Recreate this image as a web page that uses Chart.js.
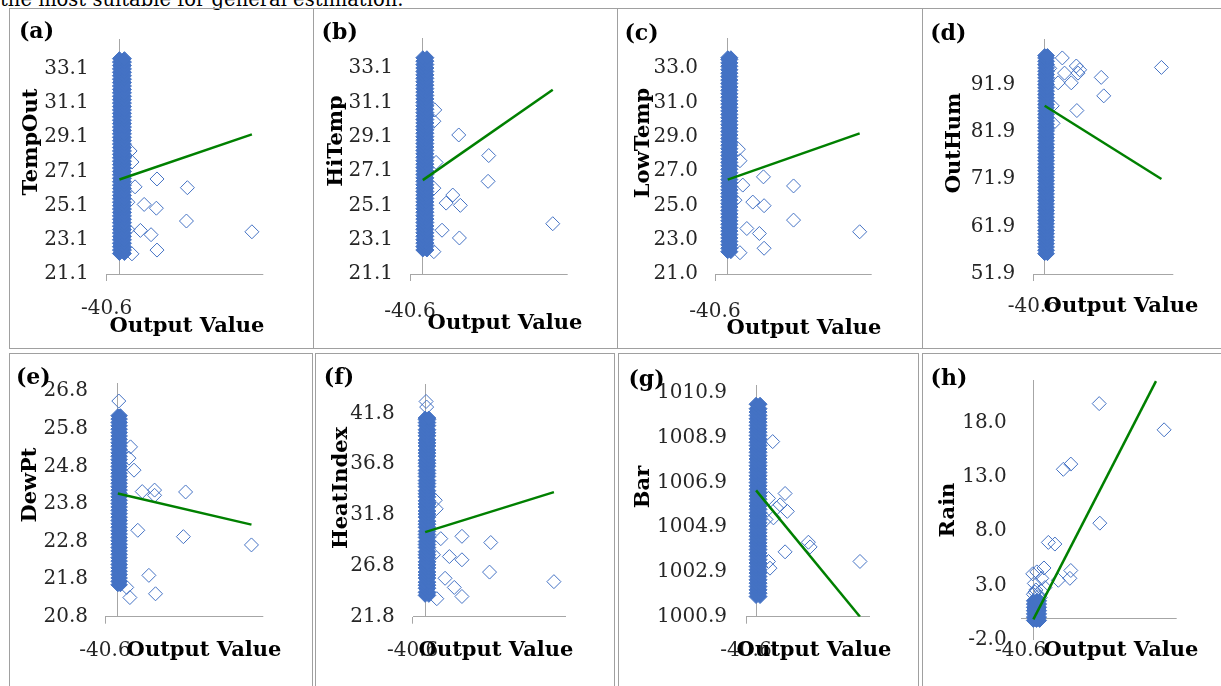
<!DOCTYPE html>
<html><head><meta charset="utf-8">
<script src="https://cdn.jsdelivr.net/npm/chart.js@4.4.1/dist/chart.umd.min.js"></script>
<style>
html,body{margin:0;padding:0;background:#fff;}
body{width:1221px;height:686px;position:relative;overflow:hidden;font-family:'DejaVu Serif',serif;}
.cell{position:absolute;border:1px solid #a0a0a0;box-sizing:border-box;}
canvas{position:absolute;}
.pl{position:absolute;font:bold 22px 'DejaVu Serif';line-height:1;transform:translate(-50%,-50%);white-space:nowrap;color:#000;}
.xt{position:absolute;font:bold 21px 'DejaVu Serif';line-height:1;transform:translate(-50%,-50%);white-space:nowrap;color:#000;}
.yt{position:absolute;font:bold 21px 'DejaVu Serif';line-height:1;transform:translate(-50%,-50%) rotate(-90deg);white-space:nowrap;color:#000;}
#top{position:absolute;left:0;top:-10px;font:19.5px 'DejaVu Serif';line-height:1;white-space:nowrap;color:#000;}
</style></head><body>
<div id="top">the most suitable for general estimation.</div>
<div id="cells"></div>
<div id="charts"></div>
<div id="texts"></div>
<script>
// ---------- data ----------
const xMin = -40.6, xMax = 459.4;
const xTicks = [-40.6];
const xAxisAt = 0;

const aYTicks = [21.1, 23.1, 25.1, 27.1, 29.1, 31.1, 33.1];
const aBandX = [0, 16];
const aBandY = [22.3, 22.5, 22.7, 22.9, 23.1, 23.3, 23.5, 23.7, 23.9, 24.1, 24.3, 24.5, 24.7, 24.9, 25.1, 25.3, 25.5, 25.7, 25.9, 26.1, 26.3, 26.5, 26.7, 26.9, 27.1, 27.3, 27.5, 27.7, 27.9, 28.1, 28.3, 28.5, 28.7, 28.9, 29.1, 29.3, 29.5, 29.7, 29.9, 30.1, 30.3, 30.5, 30.7, 30.9, 31.1, 31.3, 31.5, 31.7, 31.9, 32.1, 32.3, 32.5, 32.7, 32.9, 33.1, 33.3, 33.5, 33.7];
const aOutX = [34, 40, 50, 120, 79, 118, 67, 101, 217, 214, 120, 40, 423, 27, 27];
const aOutY = [28.3, 27.65, 26.2, 26.66, 25.17, 24.95, 23.65, 23.4, 26.15, 24.2, 22.5, 22.28, 23.57, 25.3, 23.7];
const aTrendX = [0, 423];
const aTrendY = [26.63, 29.27];

const bYTicks = [21.1, 23.1, 25.1, 27.1, 29.1, 31.1, 33.1];
const bBandX = [0, 13];
const bBandY = [22.5, 22.7, 22.9, 23.1, 23.3, 23.5, 23.7, 23.9, 24.1, 24.3, 24.5, 24.7, 24.9, 25.1, 25.3, 25.5, 25.7, 25.9, 26.1, 26.3, 26.5, 26.7, 26.9, 27.1, 27.3, 27.5, 27.7, 27.9, 28.1, 28.3, 28.5, 28.7, 28.9, 29.1, 29.3, 29.5, 29.7, 29.9, 30.1, 30.3, 30.5, 30.7, 30.9, 31.1, 31.3, 31.5, 31.7, 31.9, 32.1, 32.3, 32.5, 32.7, 32.9, 33.1, 33.3, 33.5, 33.7];
const bOutX = [38, 35, 42, 114, 209, 207, 35, 95, 74, 119, 61, 116, 35, 412];
const bOutY = [30.66, 30.0, 27.6, 29.2, 28.0, 26.5, 26.1, 25.7, 25.23, 25.1, 23.65, 23.2, 22.4, 24.03];
const bTrendX = [0, 412];
const bTrendY = [26.57, 31.84];

const cYTicks = [21.0, 23.0, 25.0, 27.0, 29.0, 31.0, 33.0];
const cBandX = [0, 10];
const cBandY = [22.3, 22.5, 22.7, 22.9, 23.1, 23.3, 23.5, 23.7, 23.9, 24.1, 24.3, 24.5, 24.7, 24.9, 25.1, 25.3, 25.5, 25.7, 25.9, 26.1, 26.3, 26.5, 26.7, 26.9, 27.1, 27.3, 27.5, 27.7, 27.9, 28.1, 28.3, 28.5, 28.7, 28.9, 29.1, 29.3, 29.5, 29.7, 29.9, 30.1, 30.3, 30.5, 30.7, 30.9, 31.1, 31.3, 31.5, 31.7, 31.9, 32.1, 32.3, 32.5, 32.7, 32.9, 33.1, 33.3, 33.5, 33.6];
const cOutX = [34, 39, 48, 114, 80, 116, 61, 101, 210, 210, 116, 39, 421, 23];
const cOutY = [28.27, 27.6, 26.18, 26.66, 25.19, 24.98, 23.65, 23.36, 26.13, 24.14, 22.5, 22.24, 23.46, 25.3];
const cTrendX = [0, 421];
const cTrendY = [26.5, 29.19];

const dYTicks = [51.9, 61.9, 71.9, 81.9, 91.9];
const dBandX = [0, 10];
const dBandY = [56.2, 56.9, 57.6, 58.3, 59.0, 59.7, 60.4, 61.1, 61.8, 62.5, 63.2, 63.9, 64.6, 65.3, 66.0, 66.7, 67.4, 68.1, 68.8, 69.5, 70.2, 70.9, 71.6, 72.3, 73.0, 73.7, 74.4, 75.1, 75.8, 76.5, 77.2, 77.9, 78.6, 79.3, 80.0, 80.7, 81.4, 82.1, 82.8, 83.5, 84.2, 84.9, 85.6, 86.3, 87.0, 87.7, 88.4, 89.1, 89.8, 90.5, 91.2, 91.9, 92.6, 93.3, 94.0, 94.7, 95.4, 96.1, 96.8, 97.5, 98.0];
const dOutX = [63, 113, 71, 125, 95, 48, 202, 211, 115, 27, 30, 417, 18, 119];
const dOutY = [97.5, 95.8, 94.3, 95.0, 92.25, 92.25, 93.4, 89.5, 86.4, 87.4, 83.7, 95.5, 95.3, 94.3];
const dTrendX = [0, 417];
const dTrendY = [87.4, 71.96];

const eYTicks = [20.8, 21.8, 22.8, 23.8, 24.8, 25.8, 26.8];
const eBandX = [0, 8];
const eBandY = [21.65, 21.74, 21.83, 21.92, 22.01, 22.1, 22.19, 22.28, 22.37, 22.46, 22.55, 22.64, 22.73, 22.82, 22.91, 23.0, 23.09, 23.18, 23.27, 23.36, 23.45, 23.54, 23.63, 23.72, 23.81, 23.9, 23.99, 24.08, 24.17, 24.26, 24.35, 24.44, 24.53, 24.62, 24.71, 24.8, 24.89, 24.98, 25.07, 25.16, 25.25, 25.34, 25.43, 25.52, 25.61, 25.7, 25.79, 25.88, 25.97, 26.06, 26.15];
const eOutX = [3, 40, 35, 51, 77, 116, 116, 214, 63, 207, 422, 98, 119, 38, 28];
const eOutY = [26.54, 25.32, 25.02, 24.7, 24.13, 24.17, 24.03, 24.12, 23.1, 22.93, 22.71, 21.9, 21.41, 21.31, 21.58];
const eTrendX = [0, 422];
const eTrendY = [24.08, 23.25];

const fYTicks = [21.8, 26.8, 31.8, 36.8, 41.8];
const fBandX = [0, 12];
const fBandY = [23.9, 24.2, 24.6, 24.9, 25.2, 25.6, 25.9, 26.2, 26.6, 26.9, 27.2, 27.6, 27.9, 28.2, 28.6, 28.9, 29.2, 29.6, 29.9, 30.2, 30.6, 30.9, 31.2, 31.6, 31.9, 32.2, 32.6, 32.9, 33.2, 33.6, 33.9, 34.2, 34.6, 34.9, 35.2, 35.6, 35.9, 36.2, 36.6, 36.9, 37.2, 37.6, 37.9, 38.2, 38.6, 38.9, 39.2, 39.6, 39.9, 40.2, 40.6, 40.9, 41.2, 41.35];
const fOutX = [3, 5, 33, 36, 51, 120, 79, 120, 214, 210, 65, 95, 120, 38, 420, 27];
const fOutY = [42.98, 42.43, 33.26, 32.42, 29.48, 29.71, 27.72, 27.4, 29.1, 26.19, 25.58, 24.68, 23.79, 23.57, 25.25, 27.9];
const fTrendX = [0, 420];
const fTrendY = [30.12, 34.06];

const gYTicks = [1000.9, 1002.9, 1004.9, 1006.9, 1008.9, 1010.9];
const gBandX = [0, 16];
const gBandY = [1001.8, 1001.95, 1002.1, 1002.25, 1002.4, 1002.55, 1002.7, 1002.85, 1003.0, 1003.15, 1003.3, 1003.45, 1003.6, 1003.75, 1003.9, 1004.05, 1004.2, 1004.35, 1004.5, 1004.65, 1004.8, 1004.95, 1005.1, 1005.25, 1005.4, 1005.55, 1005.7, 1005.85, 1006.0, 1006.15, 1006.3, 1006.45, 1006.6, 1006.75, 1006.9, 1007.05, 1007.2, 1007.35, 1007.5, 1007.65, 1007.8, 1007.95, 1008.1, 1008.25, 1008.4, 1008.55, 1008.7, 1008.85, 1009.0, 1009.15, 1009.3, 1009.45, 1009.6, 1009.75, 1009.9, 1010.05, 1010.2, 1010.4];
const gOutX = [67, 117, 50, 97, 83, 126, 70, 40, 211, 218, 117, 50, 56, 419];
const gOutY = [1008.73, 1006.41, 1006.19, 1005.9, 1005.76, 1005.61, 1005.32, 1005.25, 1004.23, 1004.02, 1003.8, 1003.37, 1003.07, 1003.37];
const gTrendX = [0, 419];
const gTrendY = [1006.55, 1000.9];

const hYTicks = [-2.0, 3.0, 8.0, 13.0, 18.0];
const hBandX = [0, 10, 20];
const hBandY = [-0.2, 0.1, 0.4, 0.7, 1.0, 1.3, 1.6];
const hOutX = [211, 419, 96, 120, 213, 48, 69, 34, -2, 11, 80, 120, 117, 27, 37, 5, 15, 0, 8, 22, 3, 25];
const hOutY = [19.73, 17.32, 13.69, 14.17, 8.74, 6.97, 6.82, 4.62, 4.08, 4.26, 3.49, 4.39, 3.67, 3.67, 2.82, 2.4, 2.0, 2.2, 2.6, 1.9, 3.2, 2.5];
const hTrendX = [0, 393];
const hTrendY = [-0.1, 21.8];

const yTitles = ['TempOut', 'HiTemp', 'LowTemp', 'OutHum', 'DewPt', 'HeatIndex', 'Bar', 'Rain'];
const panelLabels = ['(a)', '(b)', '(c)', '(d)', '(e)', '(f)', '(g)', '(h)'];
const xTitle = 'Output Value';

// ---------- styles / layout ----------
const BLUE = '#4472C4', GREEN = '#008000', AXIS = '#a6a6a6', TICK = '#262626', NONE = 'rgba(0,0,0,0)';
const FONT = "'DejaVu Serif', serif";

const panels = [
  {box:[10,9,312,347],   plot:[106.7,33.3,263.3,274],  yMin:21.1,  yMax:34.85,   yTicks:aYTicks, yAxisAt:21.1,  bandX:aBandX, bandY:aBandY, outX:aOutX, outY:aOutY, tX:aTrendX, tY:aTrendY, yPad:18, xPad:16, xTick:7, lab:[36.5,30],   yt:[29,142],    xt:[187,324]},
  {box:[314,9,616,347],  plot:[410,33.3,567.7,274],    yMin:21.1,  yMax:34.85,   yTicks:bYTicks, yAxisAt:21.1,  bandX:bBandX, bandY:bBandY, outX:bOutX, outY:bOutY, tX:bTrendX, tY:bTrendY, yPad:17, xPad:19, xTick:7, lab:[339.7,30.5], yt:[334,141],   xt:[505,321]},
  {box:[618,9,921,347],  plot:[715,33.3,871.7,274],    yMin:21.0,  yMax:34.75,   yTicks:cYTicks, yAxisAt:21.0,  bandX:cBandX, bandY:cBandY, outX:cOutX, outY:cOutY, tX:cTrendX, tY:cTrendY, yPad:17, xPad:19, xTick:7, lab:[641.5,31.5], yt:[641,142.5], xt:[804,326]},
  {box:[923,9,1221,347], plot:[1033.3,33.3,1173.3,274],yMin:51.9,  yMax:101.5,   yTicks:dYTicks, yAxisAt:51.9,  bandX:dBandX, bandY:dBandY, outX:dOutX, outY:dOutY, tX:dTrendX, tY:dTrendY, yPad:18, xPad:14, xTick:7, lab:[948.3,31.5], yt:[951.7,143], xt:[1121,304]},
  {box:[10,354,311,686], plot:[105,378.3,263.3,616.7], yMin:20.8,  yMax:27.02,   yTicks:eYTicks, yAxisAt:20.8,  bandX:eBandX, bandY:eBandY, outX:eOutX, outY:eOutY, tX:eTrendX, tY:eTrendY, yPad:17, xPad:15, xTick:7, lab:[33.3,375.5], yt:[27.7,485],  xt:[204,648]},
  {box:[316,354,613,686],plot:[412.7,377.7,566,616.7], yMin:21.8,  yMax:44.7,    yTicks:fYTicks, yAxisAt:21.8,  bandX:fBandX, bandY:fBandY, outX:fOutX, outY:fOutY, tX:fTrendX, tY:fTrendY, yPad:18, xPad:15, xTick:7, lab:[339,376],    yt:[339,487.5], xt:[496,648]},
  {box:[619,354,917,686],plot:[746,378.3,870,616.7],   yMin:1000.9,yMax:1011.26, yTicks:gYTicks, yAxisAt:1000.9,bandX:gBandX, bandY:gBandY, outX:gOutX, outY:gOutY, tX:gTrendX, tY:gTrendY, yPad:19, xPad:15, xTick:7, lab:[646.5,377.5],yt:[641,486.7], xt:[814,648]},
  {box:[923,354,1221,686],plot:[1020.7,376.7,1176.7,640],yMin:-2.0, yMax:21.9,   yTicks:hYTicks, yAxisAt:0,     bandX:hBandX, bandY:hBandY, outX:hOutX, outY:hOutY, tX:hTrendX, tY:hTrendY, yPad:14, xPad:-1, xTick:0, lab:[949,376.5],  yt:[946,510],   xt:[1121,648]}
];

// cell borders [left, top, right, bottom]
const cells = [
  [9,8,313,348],[313,8,617,348],[617,8,922,348],[922,8,1230,348],
  [9,353,312,700],[315,353,614,700],[618,353,918,700],[922,353,1230,700]
];
const cellHost = document.getElementById('cells');
cells.forEach(c => {
  const d = document.createElement('div');
  d.className = 'cell';
  d.style.left = c[0] + 'px'; d.style.top = c[1] + 'px';
  d.style.width = (c[2] - c[0] + 1) + 'px'; d.style.height = (c[3] - c[1] + 1) + 'px';
  cellHost.appendChild(d);
});

const chartHost = document.getElementById('charts');
const textHost = document.getElementById('texts');
function addText(cls, txt, pos) {
  const d = document.createElement('div');
  d.className = cls; d.textContent = txt;
  d.style.left = pos[0] + 'px'; d.style.top = pos[1] + 'px';
  textHost.appendChild(d);
}

panels.forEach((p, k) => {
  const [x0, y0, x1, y1] = p.box;
  const [pl, pt, pr, pb] = p.plot;
  const W = x1 - x0, H = y1 - y0;
  const cv = document.createElement('canvas');
  cv.width = W; cv.height = H;
  cv.style.left = x0 + 'px'; cv.style.top = y0 + 'px';
  cv.style.width = W + 'px'; cv.style.height = H + 'px';
  chartHost.appendChild(cv);

  const band = [];
  p.bandY.forEach(y => p.bandX.forEach(x => band.push({x: x, y: y})));
  const outs = p.outX.map((x, i) => ({x: x, y: p.outY[i]}));
  const trend = p.tX.map((x, i) => ({x: x, y: p.tY[i]}));
  const yVals = p.yTicks.includes(p.yAxisAt) ? p.yTicks.slice() : p.yTicks.concat([p.yAxisAt]).sort((a, b) => a - b);
  const xVals = xTicks.concat([xAxisAt]);

  new Chart(cv, {
    type: 'scatter',
    data: {datasets: [
      {data: trend, showLine: true, borderColor: GREEN, borderWidth: 2.5, pointRadius: 0, pointHoverRadius: 0, fill: false},
      {data: outs, pointStyle: 'rectRot', pointRadius: 7, pointHoverRadius: 7, borderWidth: 1, borderColor: BLUE, backgroundColor: NONE, clip: false},
      {data: band, pointStyle: 'rectRot', pointRadius: 7, pointHoverRadius: 7, borderWidth: 1, borderColor: BLUE, backgroundColor: BLUE, clip: false}
    ]},
    options: {
      responsive: false, animation: false, events: [], devicePixelRatio: 1,
      layout: {padding: {left: 0, top: pt - y0, right: x1 - pr, bottom: 0}},
      plugins: {legend: {display: false}, tooltip: {enabled: false}, title: {display: false}},
      scales: {
        x: {
          type: 'linear', min: xMin, max: xMax,
          afterBuildTicks: s => { s.ticks = xVals.map(v => ({value: v})); },
          afterFit: s => { s.height = y1 - pb; },
          ticks: {autoSkip: false, maxRotation: 0, minRotation: 0, padding: p.xPad, color: TICK,
                  font: {family: FONT, size: 20},
                  callback: v => xTicks.includes(v) ? v.toFixed(1) : ''},
          grid: {drawTicks: p.xTick > 0, tickLength: p.xTick, lineWidth: 1,
                 color: c => (c.tick && c.tick.value === xAxisAt) ? AXIS : NONE,
                 tickColor: c => (c.tick && c.tick.value === xMin) ? AXIS : NONE},
          border: {display: false}
        },
        y: {
          type: 'linear', min: p.yMin, max: p.yMax,
          afterBuildTicks: s => { s.ticks = yVals.map(v => ({value: v})); },
          afterFit: s => { s.width = pl - x0; },
          ticks: {autoSkip: false, padding: p.yPad, color: TICK, font: {family: FONT, size: 20},
                  callback: v => p.yTicks.includes(v) ? v.toFixed(1) : ''},
          grid: {drawTicks: false, lineWidth: 1,
                 color: c => (c.tick && c.tick.value === p.yAxisAt) ? AXIS : NONE},
          border: {display: false}
        }
      }
    }
  });

  addText('pl', panelLabels[k], p.lab);
  addText('yt', yTitles[k], p.yt);
  addText('xt', xTitle, p.xt);
});
</script>
</body></html>
